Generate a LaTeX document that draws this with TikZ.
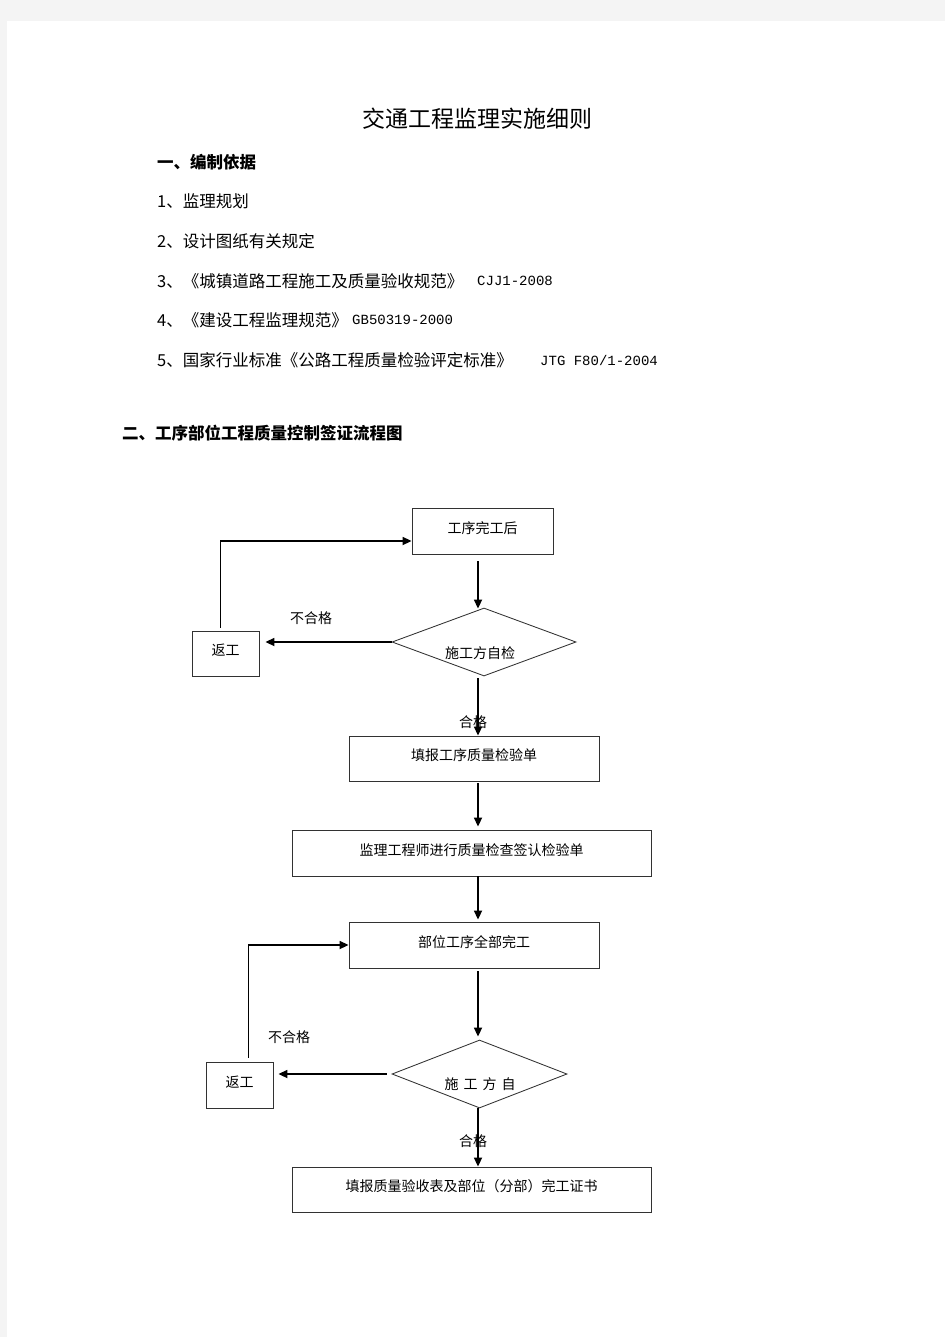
\documentclass[tikz,border=0pt]{standalone}
\usepackage{fontspec}
\setmainfont{Noto Sans CJK SC}
\newfontfamily\latinmono{Liberation Mono}
\usetikzlibrary{shapes.geometric,arrows.meta,calc}
\definecolor{pagegray}{RGB}{244,244,244}
\definecolor{boxline}{RGB}{50,50,50}
\begin{document}
\begin{tikzpicture}[x=1pt,y=-1pt,
  box/.style={draw=boxline,line width=0.85pt,rectangle,inner sep=0pt,font=\fontsize{14}{14}\selectfont,text height=11pt,text depth=7pt},
  dia/.style={draw=boxline,line width=0.85pt,diamond,inner sep=0pt,aspect=2.7},
  lbl/.style={font=\fontsize{14}{14}\selectfont,inner sep=0pt},
  arr/.style={line width=1.7pt,-{Triangle[length=9pt,width=8pt]}},
  thinline/.style={line width=0.9pt},
  body/.style={font=\fontsize{16.5}{16.5}\selectfont,anchor=west,inner sep=0pt},
  head/.style={font=\fontsize{16.5}{16.5}\selectfont\bfseries,anchor=west,inner sep=0pt},
  latin/.style={font=\fontsize{14}{14}\selectfont\latinmono,anchor=west,inner sep=0pt},
  titlestyle/.style={font=\fontsize{23}{23}\selectfont,inner sep=0pt}
]
\useasboundingbox (0,0) rectangle (945,1337);
\fill[pagegray] (0,0) rectangle (945,1337);
\fill[white] (7,21) rectangle (945,1337);

% header texts
\node[titlestyle] (title) at (477,119) {交通工程监理实施细则};
\node[head] (h1) at (157,162) {一、编制依据};
\node[body] (i1) at (157,201) {1、监理规划};
\node[body] (i2) at (157,241) {2、设计图纸有关规定};
\node[body] (i3) at (157,281) {3、《城镇道路工程施工及质量验收规范》};
\node[latin] (i3b) at (477,281) {CJJ1-2008};
\node[body] (i4) at (157,320) {4、《建设工程监理规范》};
\node[latin] (i4b) at (352,320) {GB50319-2000};
\node[body] (i5) at (157,360) {5、国家行业标准《公路工程质量检验评定标准》};
\node[latin] (i5b) at (540,360) {JTG F80/1-2004};
\node[head] (h2) at (122,433) {二、工序部位工程质量控制签证流程图};

% flowchart nodes
\coordinate (ax) at (478,0);
\node[box,minimum width=141pt,minimum height=46pt] (b1) at (482.5,531) {工序完工后};
\node[dia,minimum width=184pt,minimum height=68pt] (d1) at (484,642) {};
\node[lbl] (d1t) at (480,653) {施工方自检};
\node[box,minimum width=67pt,minimum height=45pt] (r1) at (225.5,653.5) {返工};
\node[box,minimum width=250pt,minimum height=45pt] (b2) at (474,758.5) {填报工序质量检验单};
\node[box,minimum width=359pt,minimum height=46pt] (b3) at (471.5,853) {监理工程师进行质量检查签认检验单};
\node[box,minimum width=250pt,minimum height=46pt] (b4) at (474,945) {部位工序全部完工};
\node[dia,minimum width=175pt,minimum height=68pt] (d2) at (479.5,1074) {};
\node[lbl] (d2t) at (480,1084) {施\hspace{5pt}工\hspace{5pt}方\hspace{5pt}自};
\node[box,minimum width=67pt,minimum height=46pt] (r2) at (239.5,1085) {返工};
\node[box,minimum width=359pt,minimum height=45pt] (b5) at (471.5,1189.5) {填报质量验收表及部位（分部）完工证书};

% labels
\node[lbl] (nok1) at (311,618) {不合格};
\node[lbl] (ok1) at (473,722) {合格};
\node[lbl] (nok2) at (289,1037) {不合格};
\node[lbl] (ok2) at (473,1141) {合格};

% connectors
\draw[arr] (b1.south -| ax) ++(0,7) -- ($(d1.north -| ax)+(0,1)$);
\draw[arr] (d1.west) -- ($(d1.west -| r1.east)+(6,0)$);
\coordinate (c1) at (220,541);
\draw[thinline] (r1.north -| c1) ++(0,-3) -- (c1);
\draw[arr] (c1) -- (b1.west |- c1);
\draw[arr] (d1.south -| ax) ++(0,2) -- (b2.north -| ax);
\draw[arr] (b2.south -| ax) ++(0,2) -- ($(b3.north -| ax)+(0,-3)$);
\draw[arr] (b3.south -| ax) -- ($(b4.north -| ax)+(0,-2)$);
\draw[arr] (b4.south -| ax) ++(0,3) -- ($(d2.north -| ax)+(0,-3)$);
\draw[arr] (d2.west) ++(-5,0) -- ($(d2.west -| r2.east)+(5,0)$);
\coordinate (c2) at (248,945);
\draw[thinline] (r2.north -| c2) ++(0,-4) -- (c2);
\draw[arr] (c2) -- (b4.west |- c2);
\draw[arr] (d2.south -| ax) -- (b5.north -| ax);
\end{tikzpicture}
\end{document}
